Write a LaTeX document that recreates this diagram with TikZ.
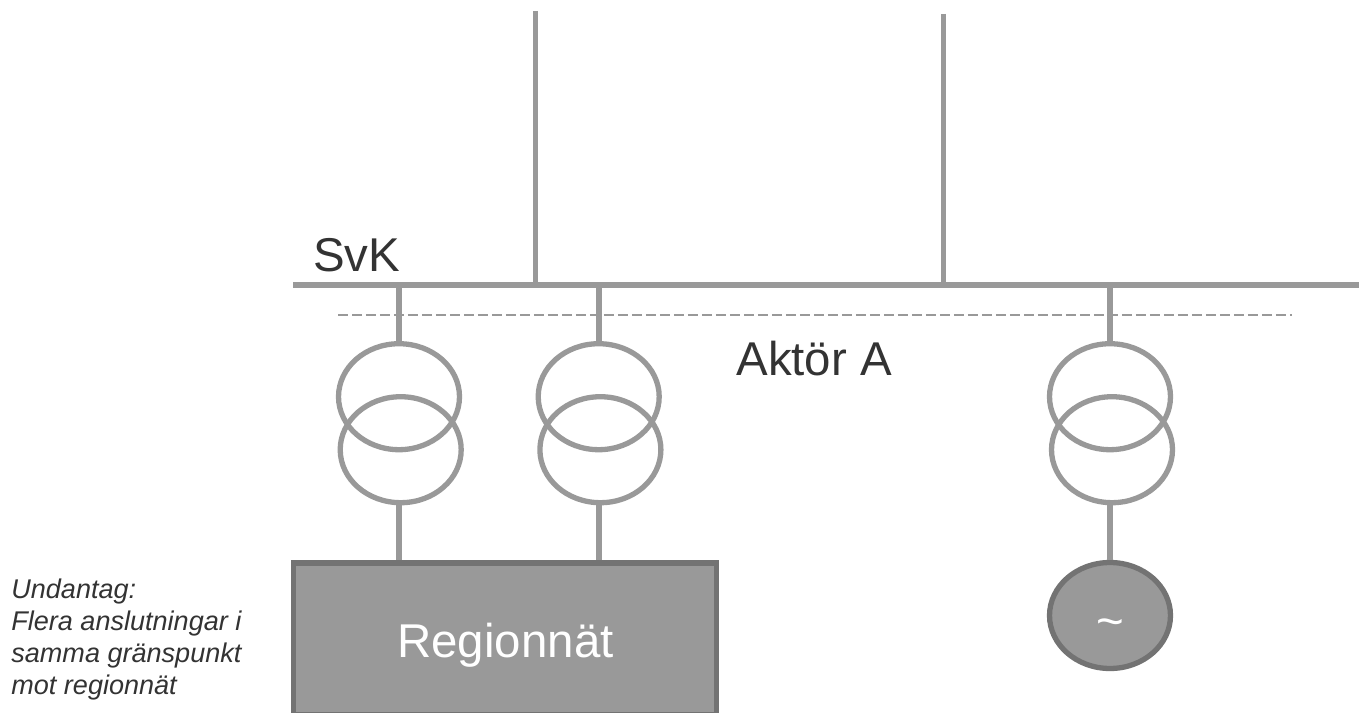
\documentclass[tikz,border=0pt]{standalone}
\usepackage{fontspec}
\setmainfont{Liberation Sans}
\usetikzlibrary{shapes.geometric}

\definecolor{linegray}{RGB}{153,153,153}
\definecolor{edgegray}{RGB}{115,115,115}
\definecolor{textgray}{RGB}{51,51,51}

\tikzset{
  wire/.style={draw=linegray,line width=0.112cm},
  winding/.style={ellipse,draw=linegray,line width=0.106cm,minimum width=2.42cm,minimum height=2.12cm,inner sep=0pt,outer sep=0pt},
  solidpart/.style={draw=edgegray,fill=linegray,line width=0.106cm,inner sep=0pt,outer sep=0.053cm},
  biglabel/.style={text=textgray,font=\fontsize{27}{30}\selectfont,inner sep=0pt},
  whitelabel/.style={text=white,font=\fontsize{27}{30}\selectfont,inner sep=0pt}
}

\begin{document}
\begin{tikzpicture}[x=0.02cm,y=-0.02cm]
\useasboundingbox (0,0) rectangle (1359,713);

% Busbar ends and tapping points
\coordinate (busw) at (293,284.7);
\coordinate (buse) at (1359,284.7);
\coordinate (feeda) at (535.3,11);
\coordinate (feedb) at (943.3,14);
\coordinate (tapa) at (535.3,284.7);
\coordinate (tapb) at (943.3,284.7);
\coordinate (tapc) at (399,284.7);
\coordinate (tapd) at (598.7,284.7);
\coordinate (tape) at (1110,284.7);
\coordinate (dashw) at (338,315.3);
\coordinate (dashe) at (1292,315.3);

% Transformers
\node[winding] (tonea) at (399,396.7) {};
\node[winding] (toneb) at (400.7,449.7) {};
\node[winding] (ttwoa) at (598.7,396.7) {};
\node[winding] (ttwob) at (600.4,449.7) {};
\node[winding] (tthra) at (1110,396.7) {};
\node[winding] (tthrb) at (1112,449.7) {};

% Regional grid and generator
\node[solidpart,minimum width=8.46cm,minimum height=3.03cm] (region) at (505,638.7) {};
\node[whitelabel,anchor=base] (regionlabel) at (505.5,657) {Regionn\"at};
\node[solidpart,ellipse,minimum width=2.42cm,minimum height=2.12cm] (gen) at (1110,615.5) {};
\node[whitelabel] (tilde) at (1110,628) {\textasciitilde};

% Busbar and lines
\draw[wire] (busw) -- (buse);
\draw[wire] (feeda) -- (tapa);
\draw[wire] (feedb) -- (tapb);
\draw[wire] (tapc) -- (tonea.north);
\draw[wire] (tapd) -- (ttwoa.north);
\draw[wire] (tape) -- (tthra.north);
\draw[wire] (toneb.south -| tapc) -- (region.north -| tapc);
\draw[wire] (ttwob.south -| tapd) -- (region.north -| tapd);
\draw[wire] (tthrb.south -| gen) -- (gen.north);

% Border line
\draw[draw=linegray,line width=0.04cm,dash pattern=on 0.2cm off 0.08cm] (dashw) -- (dashe);

% Labels
\node[biglabel,anchor=base west] (svk) at (313,271.7) {SvK};
\node[biglabel,anchor=base west] (aktor) at (736,375.7) {Akt\"or A};
\node[anchor=north west,align=left,text=textgray,inner sep=0pt,font=\fontsize{15.4}{18.2}\selectfont\itshape] (note) at (11,579) {Undantag:\\Flera anslutningar i\\samma gr\"anspunkt\\mot regionn\"at};
\end{tikzpicture}
\end{document}
